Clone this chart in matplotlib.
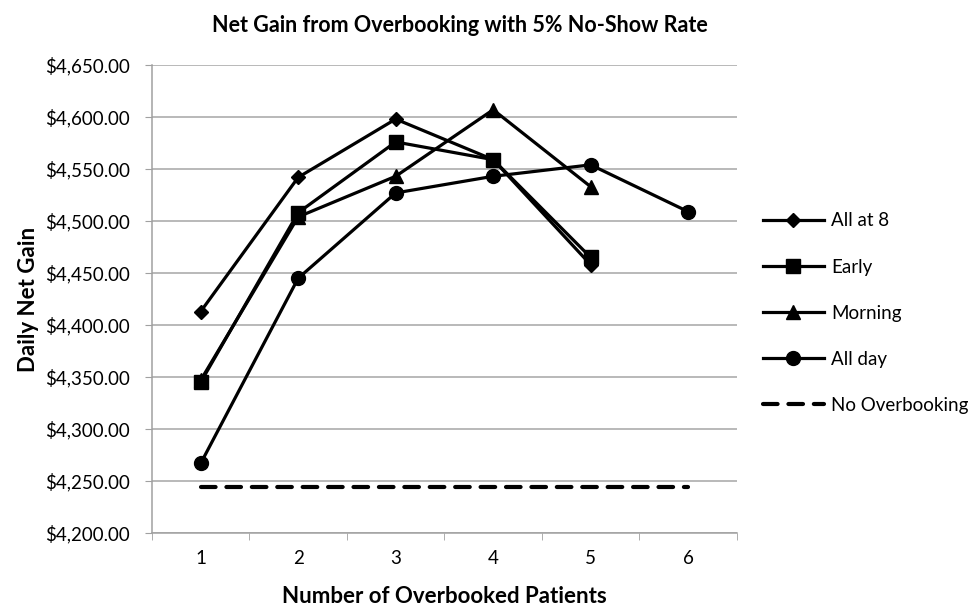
import matplotlib
matplotlib.use("Agg")
import matplotlib.pyplot as plt

plt.rcParams['font.family'] = ['Lato', 'DejaVu Sans']

patients = [1, 2, 3, 4, 5, 6]
all_at_8 = [4413, 4542, 4598, 4559, 4458]
early = [4345, 4508, 4576, 4559, 4465]
morning = [4347, 4504, 4543, 4607, 4533]
all_day = [4267, 4445, 4527, 4543, 4554, 4509]
no_overbooking = [4244, 4244, 4244, 4244, 4244, 4244]
y_ticks = [4200, 4250, 4300, 4350, 4400, 4450, 4500, 4550, 4600, 4650]

fig = plt.figure(figsize=(9.76, 6.12), dpi=100)
ax = fig.add_axes([0.1557, 0.129, 0.5993, 0.7648])

lw = 2.3
ax.plot(patients[:5], all_at_8, color='black', lw=lw, marker='D', ms=7, label='All at 8', zorder=3)
ax.plot(patients[:5], early, color='black', lw=lw, marker='s', ms=10, label='Early', zorder=3)
ax.plot(patients[:5], morning, color='black', lw=lw, marker='^', ms=10, label='Morning', zorder=3)
ax.plot(patients, all_day, color='black', lw=lw, marker='o', ms=10, label='All day', zorder=3)
ax.plot(patients, no_overbooking, color='black', lw=3, ls=(0, (3.5, 2.6)),
        dash_capstyle='round', label='No Overbooking', zorder=3)

ax.set_xlim(0.5, 6.5)
ax.set_ylim(4200, 4650)
ax.set_yticks(y_ticks)
ax.set_yticklabels(['${:,.2f}'.format(v) for v in y_ticks])
ax.set_xticks(patients)
ax.set_xticks([p - 0.5 for p in patients] + [6.5], minor=True)
ax.tick_params(axis='x', which='major', length=0, pad=12, labelsize=13.5)
ax.tick_params(axis='x', which='minor', length=5, color='#a0a0a0', direction='out')
ax.tick_params(axis='y', length=5, color='#a0a0a0', pad=11, labelsize=13.5)

ax.grid(axis='y', color='#a6a6a6', lw=1.1)
ax.set_axisbelow(True)
for s in ['top', 'right']:
    ax.spines[s].set_visible(False)
for s in ['left', 'bottom']:
    ax.spines[s].set_color('#a0a0a0')
    ax.spines[s].set_linewidth(1.1)

ax.set_title('Net Gain from Overbooking with 5% No-Show Rate', fontsize=15.5,
             fontweight='bold', pad=24, x=0.527)
ax.set_xlabel('Number of Overbooked Patients', fontsize=16, fontweight='bold', labelpad=14)
ax.set_ylabel('Daily Net Gain', fontsize=16, fontweight='bold', labelpad=4)

ax.legend(loc='center left', bbox_to_anchor=(1.015, 0.47), frameon=False,
          fontsize=13.5, labelspacing=1.55, handlelength=3.3, handletextpad=0.35)

fig.savefig('out.png', dpi=100)
